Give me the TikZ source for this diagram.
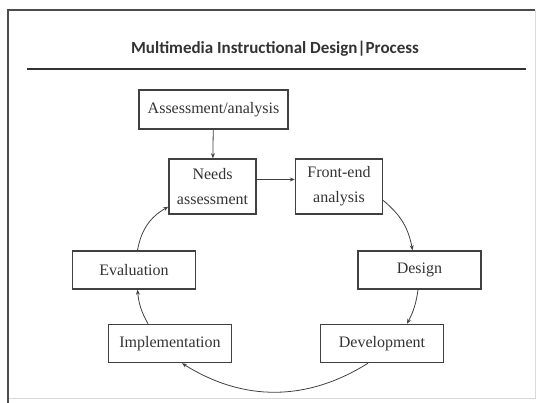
\documentclass[tikz,border=0pt]{standalone}
\usepackage{fontspec}
\setmainfont{Liberation Serif}
\newfontfamily\titlefont{Carlito}
\usetikzlibrary{arrows.meta}

\begin{document}
\begin{tikzpicture}[x=1pt, y=1pt, >={Stealth[length=5pt,width=4pt]},
             main/.style = {draw=black!75, line width=1.5pt, text=black!80, align=center,
                            font=\fontsize{16}{25}\selectfont, inner sep=2pt},
             wide/.style = {main, minimum width=149pt, minimum height=39pt},
             square/.style = {main, minimum width=87pt, minimum height=55pt},
             mid/.style = {main, minimum width=123pt, minimum height=38pt},
             arc/.style = {->, draw=black!75, line width=0.8pt}]
            \useasboundingbox (0,0) rectangle (539,403);
            % Cornice
            \draw[black!15, line width=1pt] (535,393) -- (535,4) -- (8,4);
            \draw[black!70, line width=1.6pt] (8,0) -- (8,393) -- (535,393);

            % Titolo
            \node[font=\titlefont\bfseries\fontsize{17}{18}\selectfont, text=black!80] (title) at (275,354) {Multimedia Instructional Design|Process};
            \draw[black!80, line width=1.2pt] (27,334) -- (526,334);

            % Nodi
            \node[wide] (1) at (213.5,293.5) {Assessment/analysis};
            \node[square] (2) at (212.5,216.5) {Needs\\assessment};
            \node[square] (3) at (339,216.5) {Front-end\\analysis};
            \node[mid] (4) at (419.5,133) {Design};
            \node[mid] (5) at (382,59.5) {Development};
            \node[mid] (6) at (170,59.5) {Implementation};
            \node[mid] (7) at (134,133) {Evaluation};

            % Archi
            \draw[arc] (1) -- (2);
            \draw[arc] ([yshift=7pt]2.east) -- ([yshift=7pt]3.west);
            \draw[arc, bend left=20] ([yshift=-14pt]3.east) to ([xshift=-7pt]4.north);
            \draw[arc, bend left=10] ([xshift=-1.5pt]4.south) to ([xshift=25pt]5.north);
            \draw[arc, bend left=32] ([xshift=-14pt]5.south) to ([xshift=12pt]6.south);
            \draw[arc, bend left=12] ([xshift=-22pt]6.north) to ([xshift=3.5pt]7.south);
            \draw[arc, bend left=25] ([xshift=3.5pt]7.north) to ([yshift=8pt]2.south west);
        \end{tikzpicture}
\end{document}
